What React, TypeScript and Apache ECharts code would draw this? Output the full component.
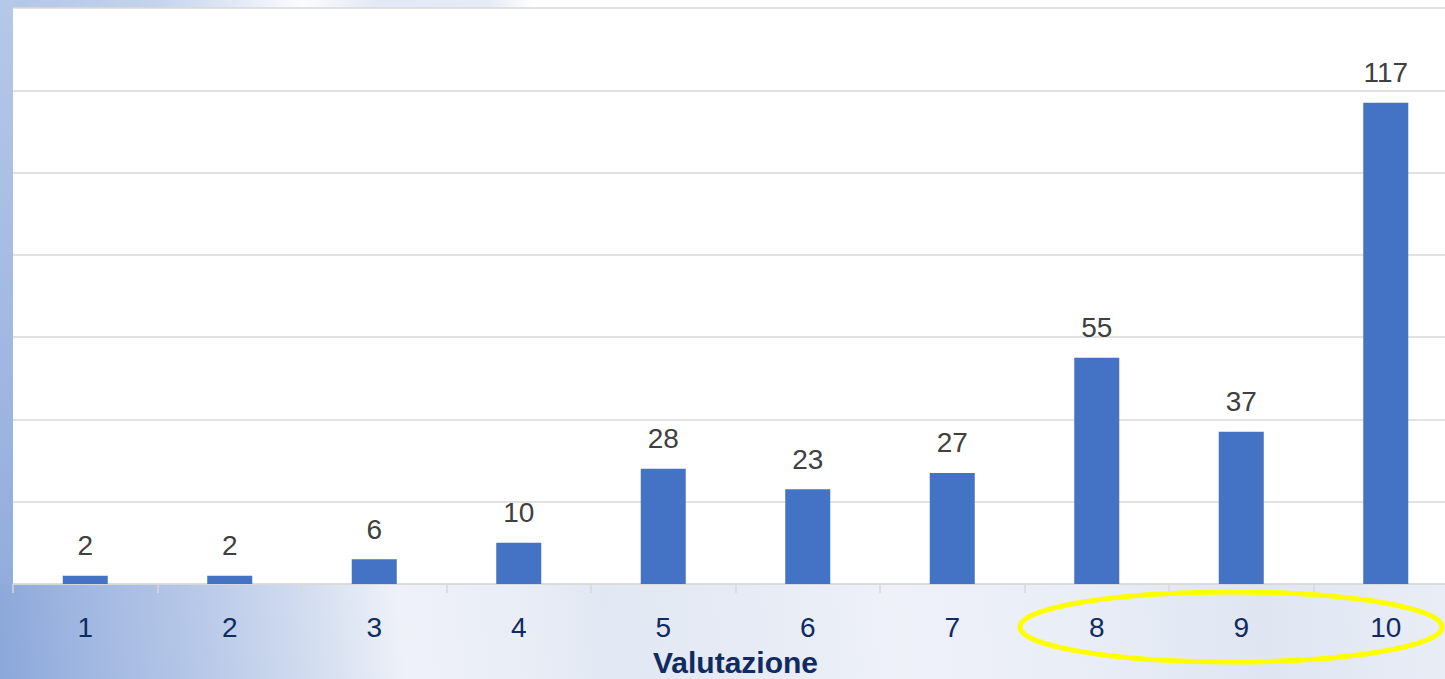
import React, { useEffect, useRef } from "react";
import * as echarts from "echarts";

const categories = ["1", "2", "3", "4", "5", "6", "7", "8", "9", "10"];
const counts = [2, 2, 6, 10, 28, 23, 27, 55, 37, 117];
const axisTitle = "Valutazione";

const FONT = "Liberation Sans";

export default function App() {
  const ref = useRef<HTMLDivElement>(null);
  useEffect(() => {
    if (!ref.current) return;
    const chart = echarts.init(ref.current, null, { renderer: "svg" });
    chart.setOption({
      animation: false,
      backgroundColor: new echarts.graphic.LinearGradient(
        0, 700, 1445, 560,
        [
          { offset: 0, color: "#8aa7da" },
          { offset: 0.07, color: "#a3b9e2" },
          { offset: 0.14, color: "#b7c8e8" },
          { offset: 0.21, color: "#d0dbef" },
          { offset: 0.28, color: "#eef1f8" },
          { offset: 0.35, color: "#eaeef7" },
          { offset: 0.42, color: "#e2e8f3" },
          { offset: 0.52, color: "#e6ebf5" },
          { offset: 0.62, color: "#eef1f8" },
          { offset: 0.73, color: "#eaeef7" },
          { offset: 0.87, color: "#dfe6f2" },
          { offset: 1, color: "#e9edf6" },
        ],
        true
      ),
      grid: {
        left: 13,
        right: 2,
        top: 8,
        bottom: 95,
        show: true,
        backgroundColor: "#ffffff",
        borderWidth: 0,
        outerBoundsMode: "none",
        containLabel: false,
      },
      xAxis: {
        type: "category",
        data: categories,
        axisLine: { lineStyle: { color: "#d9d9d9", width: 1.5 } },
        axisTick: { show: true, length: 9, lineStyle: { color: "#d9d9d9", width: 1.5 } },
        axisLabel: {
          color: "#0f2b62",
          fontSize: 28,
          lineHeight: 28,
          fontFamily: FONT,
          margin: 29,
        },
        name: axisTitle,
        nameLocation: "middle",
        nameGap: 64,
        nameTextStyle: {
          color: "#0f2b62",
          fontSize: 30,
          lineHeight: 28,
          fontWeight: "bold",
          fontFamily: FONT,
        },
      },
      yAxis: {
        type: "value",
        min: 0,
        max: 140,
        interval: 20,
        axisLabel: { show: false },
        axisLine: { show: false },
        axisTick: { show: false },
        splitLine: { lineStyle: { color: "#d9d9d9", width: 1.5 } },
      },
      series: [
        {
          type: "bar",
          data: counts,
          barWidth: 45,
          itemStyle: { color: "#4472c4" },
          label: {
            show: true,
            position: "top",
            distance: 16,
            color: "#404040",
            fontSize: 28,
            fontFamily: FONT,
          },
        },
      ],
      graphic: [
        {
          type: "rect",
          shape: { x: 0, y: 0, width: 13, height: 584 },
          style: {
            fill: new echarts.graphic.LinearGradient(0, 0, 0, 1, [
              { offset: 0, color: "#b6c8e8" },
              { offset: 1, color: "#92addd" },
            ]),
          },
          silent: true,
        },
        {
          type: "rect",
          shape: { x: 13, y: 0, width: 1447, height: 8 },
          style: {
            fill: new echarts.graphic.LinearGradient(
              13, 0, 1460, 0,
              [
                { offset: 0, color: "#b4c7e7" },
                { offset: 0.1, color: "#c5d3ec" },
                { offset: 0.2, color: "#fbfcfe" },
                { offset: 0.25, color: "#e3e9f5" },
                { offset: 0.33, color: "#e6ecf6" },
                { offset: 0.36, color: "#ffffff" },
                { offset: 1, color: "#ffffff" },
              ],
              true
            ),
          },
          silent: true,
        },
        {
          type: "ellipse",
          shape: { cx: 1231, cy: 627, rx: 211, ry: 35 },
          style: { fill: "transparent", stroke: "#ffff00", lineWidth: 5 },
          z: 100,
        },
      ],
    });
    return () => chart.dispose();
  }, []);
  return (
    <div style={{ position: "absolute", left: 0, top: 0, width: 1445, height: 679, overflow: "hidden" }}>
      <div ref={ref} style={{ width: 1460, height: 679 }} />
    </div>
  );
}
